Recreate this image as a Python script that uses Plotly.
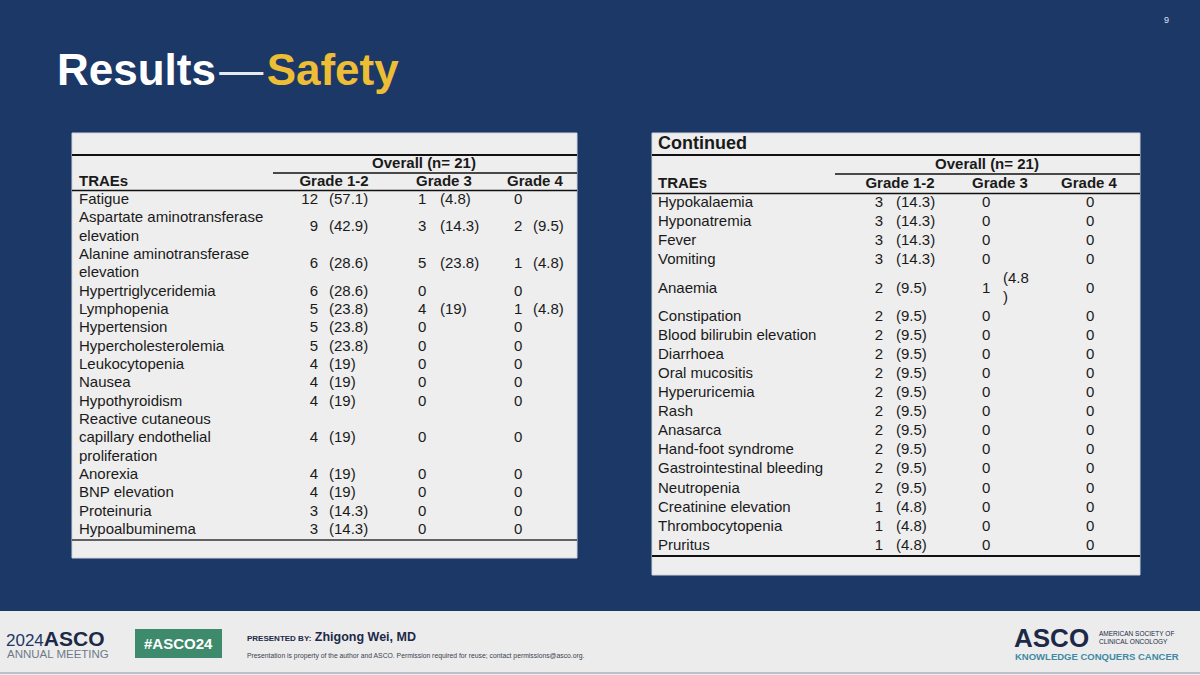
import plotly.graph_objects as go

# ---- data: left table ----
events_l = ["Fatigue", "Aspartate aminotransferase<br>elevation", "Alanine aminotransferase<br>elevation",
            "Hypertriglyceridemia", "Lymphopenia", "Hypertension", "Hypercholesterolemia",
            "Leukocytopenia", "Nausea", "Hypothyroidism",
            "Reactive cutaneous<br>capillary endothelial<br>proliferation",
            "Anorexia", "BNP elevation", "Proteinuria", "Hypoalbuminema"]
g12_n_l = [12, 9, 6, 6, 5, 5, 5, 4, 4, 4, 4, 4, 4, 3, 3]
g12_pct_l = [57.1, 42.9, 28.6, 28.6, 23.8, 23.8, 23.8, 19, 19, 19, 19, 19, 19, 14.3, 14.3]
g3_n_l = [1, 3, 5, 0, 4, 0, 0, 0, 0, 0, 0, 0, 0, 0, 0]
g3_pct_l = [4.8, 14.3, 23.8, None, 19, None, None, None, None, None, None, None, None, None, None]
g4_n_l = [0, 2, 1, 0, 1, 0, 0, 0, 0, 0, 0, 0, 0, 0, 0]
g4_pct_l = [None, 9.5, 4.8, None, 4.8, None, None, None, None, None, None, None, None, None, None]

# ---- data: right table (continued) ----
events_r = ["Hypokalaemia", "Hyponatremia", "Fever", "Vomiting", "Anaemia", "Constipation",
            "Blood bilirubin elevation", "Diarrhoea", "Oral mucositis", "Hyperuricemia", "Rash",
            "Anasarca", "Hand-foot syndrome", "Gastrointestinal bleeding", "Neutropenia",
            "Creatinine elevation", "Thrombocytopenia", "Pruritus"]
g12_n_r = [3, 3, 3, 3, 2, 2, 2, 2, 2, 2, 2, 2, 2, 2, 2, 1, 1, 1]
g12_pct_r = [14.3, 14.3, 14.3, 14.3, 9.5, 9.5, 9.5, 9.5, 9.5, 9.5, 9.5, 9.5, 9.5, 9.5, 9.5, 4.8, 4.8, 4.8]
g3_n_r = [0, 0, 0, 0, 1, 0, 0, 0, 0, 0, 0, 0, 0, 0, 0, 0, 0, 0]
g3_pct_r = [None, None, None, None, 4.8, None, None, None, None, None, None, None, None, None, None, None, None, None]
g4_n_r = [0] * 18

grade_headers = ["Grade 1-2", "Grade 3", "Grade 4"]

NAVY = "#1c3867"
PANEL = "#eeeeee"
INK = "#1a1a1a"
FONT = "Liberation Sans, Arial, sans-serif"
FS = 15


def pct(v):
    if v is None:
        return ""
    return "(" + f"{v:g}" + ")"


def row_layout(cells, top, lh):
    # each cell may span several lines; returns row centres and a flat list of lines
    centres, lx, ly = [], [], []
    cum = 0
    for c in cells:
        parts = c.split("<br>")
        k = len(parts)
        centres.append(top + (cum + k / 2) * lh)
        for i, p in enumerate(parts):
            lx.append(p)
            ly.append(top + (cum + i + 0.5) * lh)
        cum += k
    return centres, lx, ly


def txt(x, y, text, pos, size=FS, bold=False):
    if bold:
        text = ["<b>" + t + "</b>" for t in text]
    return go.Scatter(x=x, y=y, text=text, mode="text", textposition=pos,
                      textfont=dict(family=FONT, size=size, color=INK),
                      hoverinfo="skip", showlegend=False, cliponaxis=False)


fig = go.Figure()
shapes = []

# ---------- left table ----------
L0, L1 = 72, 577
shapes.append(dict(type="rect", x0=L0, x1=L1, y0=133, y1=558, fillcolor=PANEL,
                   line=dict(color="#d0d4dc", width=1)))
shapes.append(dict(type="line", x0=L0, x1=L1, y0=155, y1=155, line=dict(color="#111", width=2.2)))
shapes.append(dict(type="line", x0=273, x1=L1, y0=173, y1=173, line=dict(color="#111", width=1.6)))
shapes.append(dict(type="line", x0=L0, x1=L1, y0=190.5, y1=190.5, line=dict(color="#111", width=1.6)))
shapes.append(dict(type="line", x0=L0, x1=L1, y0=540, y1=540, line=dict(color="#333", width=1.6)))

yl, name_l, name_yl = row_layout(events_l, 191, 18.33)
fig.add_trace(txt([79] * len(name_yl), name_yl, name_l, "middle right"))
fig.add_trace(txt([318] * len(yl), yl, [str(v) for v in g12_n_l], "middle left"))
fig.add_trace(txt([329] * len(yl), yl, [pct(v) for v in g12_pct_l], "middle right"))
fig.add_trace(txt([418] * len(yl), yl, [str(v) for v in g3_n_l], "middle right"))
fig.add_trace(txt([440] * len(yl), yl, [pct(v) for v in g3_pct_l], "middle right"))
fig.add_trace(txt([514] * len(yl), yl, [str(v) for v in g4_n_l], "middle right"))
fig.add_trace(txt([533] * len(yl), yl, [pct(v) for v in g4_pct_l], "middle right"))
fig.add_trace(txt([424], [164], ["Overall (n= 21)"], "middle center", bold=True))
fig.add_trace(txt([79], [182], ["TRAEs"], "middle right", bold=True))
fig.add_trace(txt([334, 444, 535], [182] * 3, grade_headers, "middle center", bold=True))

# ---------- right table ----------
R0, R1 = 652, 1140
shapes.append(dict(type="rect", x0=R0, x1=R1, y0=133, y1=575, fillcolor=PANEL,
                   line=dict(color="#d0d4dc", width=1)))
shapes.append(dict(type="line", x0=R0, x1=R1, y0=155, y1=155, line=dict(color="#111", width=2.2)))
shapes.append(dict(type="line", x0=835, x1=R1, y0=174, y1=174, line=dict(color="#111", width=1.6)))
shapes.append(dict(type="line", x0=R0, x1=R1, y0=193.5, y1=193.5, line=dict(color="#111", width=1.6)))
shapes.append(dict(type="line", x0=R0, x1=R1, y0=556, y1=556, line=dict(color="#111", width=2)))

# the grade 3 percentage column is narrow, so "(4.8)" wraps onto two lines
g3_pct_txt_r = ["" if v is None else "(" + f"{v:g}" + "<br>)" for v in g3_pct_r]
yr, g3p_lines, g3p_y = row_layout(g3_pct_txt_r, 193.5, 19.05)
fig.add_trace(txt([658] * len(yr), yr, events_r, "middle right"))
fig.add_trace(txt([883] * len(yr), yr, [str(v) for v in g12_n_r], "middle left"))
fig.add_trace(txt([896] * len(yr), yr, [pct(v) for v in g12_pct_r], "middle right"))
fig.add_trace(txt([982] * len(yr), yr, [str(v) for v in g3_n_r], "middle right"))
fig.add_trace(txt([1003] * len(g3p_y), g3p_y, g3p_lines, "middle right"))
fig.add_trace(txt([1086] * len(yr), yr, [str(v) for v in g4_n_r], "middle right"))
fig.add_trace(txt([658], [144], ["Continued"], "middle right", size=18, bold=True))
fig.add_trace(txt([987], [165], ["Overall (n= 21)"], "middle center", bold=True))
fig.add_trace(txt([658], [184], ["TRAEs"], "middle right", bold=True))
fig.add_trace(txt([900, 1000, 1089], [184] * 3, grade_headers, "middle center", bold=True))

# ---------- footer ----------
shapes.append(dict(type="rect", x0=0, x1=1200, y0=611, y1=675, fillcolor="#ececec",
                   line=dict(width=0)))
shapes.append(dict(type="line", x0=0, x1=1200, y0=673, y1=673, line=dict(color="#b8c2cc", width=2)))
shapes.append(dict(type="rect", x0=135, x1=222, y0=629, y1=658, fillcolor="#3e8a6c",
                   line=dict(width=0)))

ann = [
    dict(x=55, y=69, text="<b>Results</b><span style='font-size:12px'>\u00a0</span>"
                          "<span style='color:#e6e9ef'>\u2014</span>"
                          "<span style='font-size:12px'>\u00a0</span>"
                          "<b><span style='color:#edbd35'>Safety</span></b>",
         xanchor="left", yanchor="middle", font=dict(family=FONT, size=44, color="white")),
    dict(x=1166, y=20, text="9", xanchor="center", yanchor="middle",
         font=dict(family=FONT, size=9, color="#dfe6f2")),
    dict(x=4, y=638, text="<span style='color:#1c3867;font-size:17px'>2024</span><b>ASCO</b>",
         xanchor="left", yanchor="middle", font=dict(family=FONT, size=21, color="#1c2a48")),
    dict(x=5, y=654, text="ANNUAL MEETING", xanchor="left", yanchor="middle",
         font=dict(family=FONT, size=11.5, color="#6f7a88")),
    dict(x=178, y=643, text="<b>#ASCO24</b>", xanchor="center", yanchor="middle",
         font=dict(family=FONT, size=15, color="white")),
    dict(x=245, y=637, text="<b><span style='font-size:8px'>PRESENTED BY:</span></b> "
                            "<b>Zhigong Wei, MD</b>",
         xanchor="left", yanchor="middle", font=dict(family=FONT, size=12.5, color="#1c2a48")),
    dict(x=245, y=656, text="Presentation is property of the author and ASCO. Permission required "
                            "for reuse; contact permissions@asco.org.",
         xanchor="left", yanchor="middle", font=dict(family=FONT, size=6.8, color="#3a4250")),
    dict(x=1012, y=638, text="<b>ASCO</b>", xanchor="left", yanchor="middle",
         font=dict(family=FONT, size=26, color="#1c2a48")),
    dict(x=1097, y=637, text="AMERICAN SOCIETY OF<br>CLINICAL ONCOLOGY", xanchor="left",
         yanchor="middle", align="left", font=dict(family=FONT, size=6.5, color="#1c2a48")),
    dict(x=1013, y=656, text="<b>KNOWLEDGE CONQUERS CANCER</b>", xanchor="left", yanchor="middle",
         font=dict(family=FONT, size=9.5, color="#3d8aa2")),
]
for a in ann:
    a.update(xref="x", yref="y", showarrow=False)

fig.update_layout(
    width=1200, height=675,
    margin=dict(l=0, r=0, t=0, b=0),
    paper_bgcolor=NAVY, plot_bgcolor=NAVY,
    xaxis=dict(range=[0, 1200], visible=False, fixedrange=True),
    yaxis=dict(range=[675, 0], visible=False, fixedrange=True),
    shapes=[dict(s, layer="below", xref="x", yref="y") for s in shapes],
    annotations=ann,
    showlegend=False,
)

fig.write_html("out.html", config={"displayModeBar": False},
               post_script="document.body.style.margin='0';"
                           "document.body.style.background='" + NAVY + "';")
